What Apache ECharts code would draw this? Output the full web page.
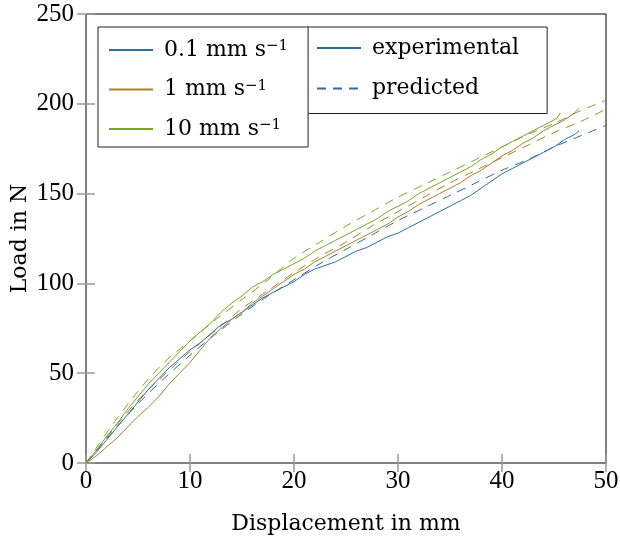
<!DOCTYPE html>
<html>
<head>
<meta charset="utf-8">
<script src="https://cdn.jsdelivr.net/npm/echarts@6/dist/echarts.min.js"></script>
<style>
html, body { margin: 0; padding: 0; background: #fff; }
#chart { width: 620px; height: 540px; }
</style>
</head>
<body>
<div id="chart"></div>
<script>
// measured curves (x in mm, load in N)
const expX01 = [0, 1, 2, 3, 4, 5, 6, 7, 8, 9, 10, 11, 12, 13, 14, 15, 16, 17, 18, 19, 20, 21, 22, 23, 24, 25, 26, 27, 28, 29, 30, 31, 32, 33, 34, 35, 36, 37, 38, 39, 40, 41, 42, 43, 44, 45, 46, 47, 47.4];
const expY01 = [0, 6, 13, 20, 27, 34, 41, 47, 53, 58, 63, 67, 72, 77, 80, 84, 88, 92, 95, 98, 101, 105, 108, 110, 112, 115, 118, 120, 123, 126, 128, 131, 134, 137, 140, 143, 146, 149, 153, 157, 161, 164, 167, 170, 173, 176, 180, 183, 185];
const expX1 = [0, 1, 2, 3, 4, 5, 6, 7, 8, 9, 10, 11, 12, 13, 14, 15, 16, 17, 18, 19, 20, 21, 22, 23, 24, 25, 26, 27, 28, 29, 30, 31, 32, 33, 34, 35, 36, 37, 38, 39, 40, 41, 42, 43, 44, 45, 46, 47, 47.4];
const expY1 = [0, 4, 9, 14, 20, 26, 31, 37, 44, 50, 56, 63, 70, 75, 80, 84, 89, 93, 97, 101, 105, 108, 112, 115, 118, 121, 124, 127, 130, 133, 137, 140, 144, 147, 150, 153, 156, 160, 163, 167, 171, 174, 178, 181, 185, 188, 191, 195, 197.5];
const expX10 = [0, 1, 2, 3, 4, 5, 6, 7, 8, 9, 10, 11, 12, 13, 14, 15, 16, 17, 18, 19, 20, 21, 22, 23, 24, 25, 26, 27, 28, 29, 30, 31, 32, 33, 34, 35, 36, 37, 38, 39, 40, 41, 42, 43, 44, 45, 45.3, 45.6];
const expY10 = [0, 7, 15, 22, 30, 37, 44, 50, 56, 62, 68, 73, 78, 84, 89, 93, 98, 101, 105, 108, 111, 114, 118, 121, 124, 127, 130, 133, 136, 140, 143, 146, 150, 153, 156, 159, 162, 165, 169, 172, 176, 179, 182, 185, 188, 191, 192, 195];

// model predictions
const predX = [0, 2.5, 5, 7.5, 10, 12.5, 15, 17.5, 20, 22.5, 25, 27.5, 30, 32.5, 35, 37.5, 40, 42.5, 45, 47.5, 50];
const predY01 = [0, 17, 33, 47, 60, 72, 83, 93, 102, 111, 119, 127, 135, 142, 149, 156, 163, 169, 176, 182, 188];
const predY1 = [0, 18, 35, 49, 62, 74, 86, 96, 106, 115, 123, 132, 140, 148, 156, 163, 170, 177, 184, 190, 197];
const predY10 = [0, 21, 40, 56, 68, 80, 91, 102, 114, 123, 132, 140, 148, 155, 162, 169, 176, 183, 189, 196, 202];

const rateNames = ['0.1', '1', '10'];
const colors = ['#2b6f9c', '#a8812f', '#7aa625'];
const font = 'DejaVu Serif';
const numFont = 'Liberation Serif';

const pairs = (xs, ys) => xs.map((x, i) => [x, ys[i]]);
const expData = [pairs(expX01, expY01), pairs(expX1, expY1), pairs(expX10, expY10)];
const predData = [pairs(predX, predY01), pairs(predX, predY1), pairs(predX, predY10)];

const series = [];
for (let i = 0; i < 3; i++) {
  series.push({
    name: rateNames[i],
    type: 'line',
    symbol: 'none',
    data: expData[i],
    lineStyle: { width: 1, color: colors[i] },
    itemStyle: { color: colors[i] },
    z: 3
  });
  series.push({
    name: 'pred' + rateNames[i],
    type: 'line',
    symbol: 'none',
    smooth: 0.3,
    data: predData[i],
    lineStyle: { width: 1, color: colors[i], type: [9, 7] },
    itemStyle: { color: colors[i] },
    z: 2
  });
}
series.push({
  name: 'experimental', type: 'line', symbol: 'none', data: [],
  lineStyle: { width: 1, color: colors[0] }, itemStyle: { color: colors[0] }
});
series.push({
  name: 'predicted', type: 'line', symbol: 'none', data: [],
  lineStyle: { width: 1, color: colors[0], type: [9, 7] }, itemStyle: { color: colors[0] }
});

const chart = echarts.init(document.getElementById('chart'));
const tickStyle = { show: true, inside: true, length: 9, lineStyle: { color: '#999', width: 1.5 } };
const hideSymbol = { color: 'rgba(0,0,0,0)', borderColor: 'rgba(0,0,0,0)', borderWidth: 0 };
const option = {
  animation: false,
  textStyle: { fontFamily: font },
  grid: {
    left: 86, right: 14, top: 14, bottom: 77,
    outerBoundsMode: 'none', containLabel: false,
    show: true, borderColor: '#000', borderWidth: 1
  },
  legend: [
    {
      data: ['experimental', 'predicted'],
      orient: 'vertical',
      left: 307, top: 27,
      padding: [10, 28, 14, 9],
      itemGap: 18.5,
      itemWidth: 44, itemHeight: 14,
      itemStyle: hideSymbol,
      backgroundColor: '#fff', borderColor: '#222', borderWidth: 1,
      textStyle: { fontFamily: font, fontSize: 22, color: '#000', padding: [0, 0, 0, 6] },
      z: 5
    },
    {
      data: rateNames,
      orient: 'vertical',
      left: 98, top: 27,
      padding: [12, 20, 7, 10],
      itemGap: 17.5,
      itemWidth: 44, itemHeight: 14,
      itemStyle: hideSymbol,
      backgroundColor: '#fff', borderColor: '#222', borderWidth: 1,
      formatter: name => name + ' mm s{sup|\u22121}',
      textStyle: {
        fontFamily: font, fontSize: 22, color: '#000', padding: [0, 0, 0, 6],
        rich: { sup: { fontFamily: font, fontSize: 15, verticalAlign: 'top', lineHeight: 22 } }
      },
      z: 6
    }
  ],
  xAxis: [
    {
      type: 'value', min: 0, max: 50, interval: 10,
      name: 'Displacement in mm', nameLocation: 'middle', nameGap: 50,
      nameMoveOverlap: false,
      nameTextStyle: { fontFamily: font, fontSize: 22, color: '#000' },
      axisLine: { show: false },
      axisTick: tickStyle,
      splitLine: { show: false },
      axisLabel: { fontFamily: numFont, fontSize: 25, color: '#000', margin: 6 }
    },
    {
      type: 'value', min: 0, max: 50, interval: 10, position: 'top',
      axisLine: { show: false }, axisTick: tickStyle,
      splitLine: { show: false }, axisLabel: { show: false }
    }
  ],
  yAxis: [
    {
      type: 'value', min: 0, max: 250, interval: 50,
      name: 'Load in N', nameLocation: 'middle', nameGap: 55,
      nameMoveOverlap: false,
      nameTextStyle: { fontFamily: font, fontSize: 22, color: '#000' },
      axisLine: { show: false },
      axisTick: tickStyle,
      splitLine: { show: false },
      axisLabel: { fontFamily: numFont, fontSize: 25, color: '#000', margin: 12 }
    },
    {
      type: 'value', min: 0, max: 250, interval: 50, position: 'right',
      axisLine: { show: false }, axisTick: tickStyle,
      splitLine: { show: false }, axisLabel: { show: false }
    }
  ],
  series: series
};
chart.setOption(option);
</script>
</body>
</html>
